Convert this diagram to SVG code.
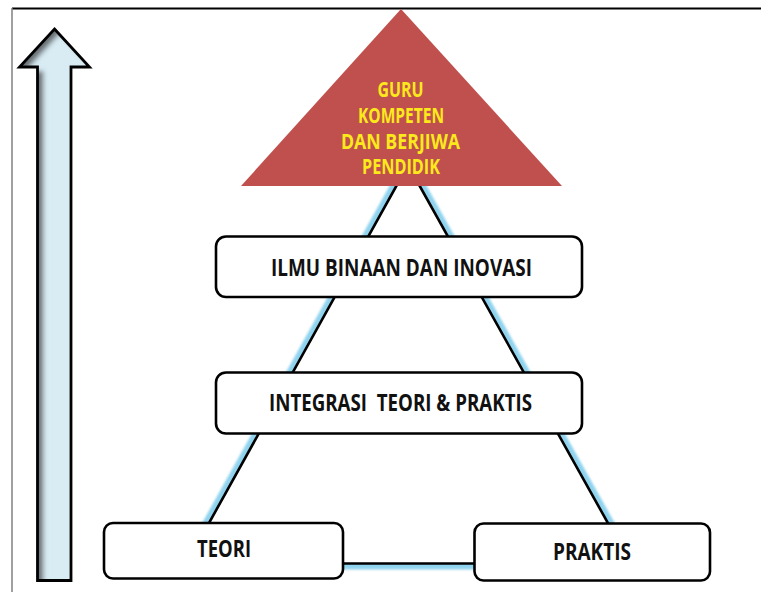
<svg xmlns="http://www.w3.org/2000/svg" width="761" height="592" viewBox="0 0 761 592">
<defs>
<style>
.box{fill:#ffffff;stroke:#000000;stroke-width:2.6}
.lbl{font-family:"Open Sans","Liberation Sans",sans-serif;font-weight:700;fill:#111111;text-anchor:middle;white-space:pre}
.ylbl{font-family:"Open Sans","Liberation Sans",sans-serif;font-weight:700;fill:#fbe91c;text-anchor:middle;font-size:20.5px}
</style>
<filter id="inner" x="-20%" y="-5%" width="140%" height="110%">
<feOffset in="SourceAlpha" dx="6" dy="4" result="off"/>
<feGaussianBlur in="off" stdDeviation="2.5" result="blur"/>
<feComposite in="SourceAlpha" in2="blur" operator="out" result="edge"/>
<feFlood flood-color="#3a3a3a" flood-opacity="0.85"/>
<feComposite in2="edge" operator="in" result="shadow"/>
<feMerge><feMergeNode in="SourceGraphic"/><feMergeNode in="shadow"/></feMerge>
</filter>
<filter id="glow" x="-10%" y="-10%" width="120%" height="120%">
<feGaussianBlur stdDeviation="1.2"/>
</filter>
</defs>
<rect width="761" height="592" fill="#ffffff"/>
<g id="frame">
<line x1="12" y1="8.5" x2="761" y2="8.5" stroke="#000" stroke-width="2"/>
<line x1="12" y1="8" x2="12" y2="592" stroke="#808080" stroke-width="1.5"/>
</g>
<g id="arrow">
<path d="M54.5,29 L89.5,67 L71,67 L71,580.5 L37.5,580.5 L37.5,67 L19.5,67 Z" fill="#d9ecf4" filter="url(#inner)"/>
<path d="M54.5,29 L89.5,67 L71,67 L71,580.5 L37.5,580.5 L37.5,67 L19.5,67 Z" fill="none" stroke="#000" stroke-width="2.8" stroke-linejoin="miter"/>
</g>
<g id="connectors">
<path d="M408,165 L630.5,563.5 L186.5,563.5 Z" fill="none" stroke="#8fd3ee" stroke-width="12" filter="url(#glow)"/>
<path d="M408,165 L630.5,563.5 L186.5,563.5 Z" fill="#ffffff" stroke="none"/>
<path d="M408,165 L630.5,563.5 L186.5,563.5 Z" fill="none" stroke="#000" stroke-width="2.6"/>
</g>
<g id="goal">
<path d="M401,9 L562,186 L241,186 Z" fill="#c0504d"/>
<text class="ylbl" x="400.5" y="97" textLength="46" lengthAdjust="spacingAndGlyphs">GURU</text>
<text class="ylbl" x="401" y="123" textLength="86" lengthAdjust="spacingAndGlyphs">KOMPETEN</text>
<text class="ylbl" x="400.5" y="148.5" textLength="119" lengthAdjust="spacingAndGlyphs">DAN BERJIWA</text>
<text class="ylbl" x="401" y="174" textLength="78" lengthAdjust="spacingAndGlyphs">PENDIDIK</text>
</g>
<g id="ilmu">
<rect class="box" x="216" y="236.5" width="366" height="60.5" rx="10"/>
<text class="lbl" x="401.5" y="276" font-size="22.5" textLength="261" lengthAdjust="spacingAndGlyphs">ILMU BINAAN DAN INOVASI</text>
</g>
<g id="integrasi">
<rect class="box" x="216" y="372.5" width="366" height="61" rx="10"/>
<text class="lbl" x="400.5" y="411" font-size="22.5" textLength="263" lengthAdjust="spacingAndGlyphs">INTEGRASI  TEORI &amp; PRAKTIS</text>
</g>
<g id="teori">
<rect class="box" x="104" y="523" width="239" height="55.5" rx="9"/>
<text class="lbl" x="224" y="557" font-size="22.5" textLength="54" lengthAdjust="spacingAndGlyphs">TEORI</text>
</g>
<g id="praktis">
<rect class="box" x="474.5" y="523.5" width="235.5" height="57" rx="9"/>
<text class="lbl" x="592" y="560" font-size="22.5" textLength="78" lengthAdjust="spacingAndGlyphs">PRAKTIS</text>
</g>
</svg>
